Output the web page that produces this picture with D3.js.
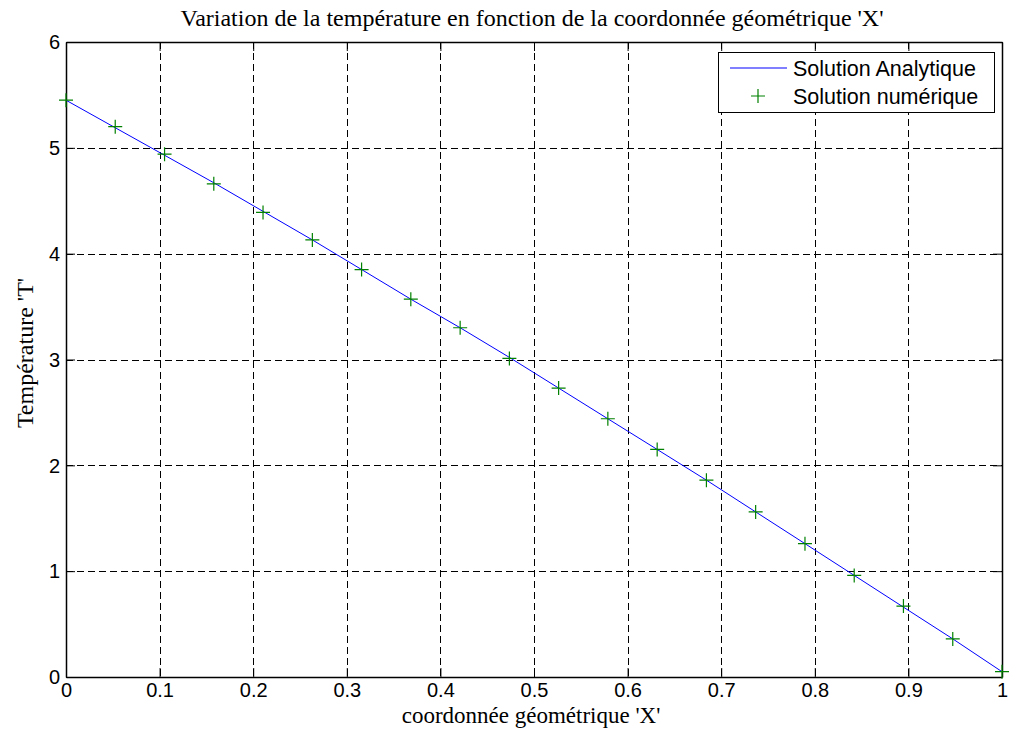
<!DOCTYPE html>
<html>
<head>
<meta charset="utf-8">
<script src="https://cdn.jsdelivr.net/npm/d3@7"></script>
<style>
  body { margin: 0; background: #fff; }
  svg { display: block; }
</style>
</head>
<body>
<svg id="chart" width="1009" height="738"></svg>
<script>
// nodes x = i/19
var xNodes = [0, 0.0526, 0.1053, 0.1579, 0.2105, 0.2632, 0.3158, 0.3684, 0.4211, 0.4737,
  0.5263, 0.5789, 0.6316, 0.6842, 0.7368, 0.7895, 0.8421, 0.8947, 0.9474, 1];
var tAnalytique = [5.45, 5.19, 4.93, 4.67, 4.40, 4.13, 3.85, 3.57, 3.30, 3.02,
  2.73, 2.44, 2.15, 1.86, 1.56, 1.26, 0.96, 0.66, 0.36, 0.05];
var tNumerique = [5.45, 5.20, 4.94, 4.66, 4.39, 4.13, 3.85, 3.57, 3.30, 3.01,
  2.73, 2.44, 2.15, 1.86, 1.56, 1.26, 0.96, 0.67, 0.36, 0.05];
var xTicks = [0, 0.1, 0.2, 0.3, 0.4, 0.5, 0.6, 0.7, 0.8, 0.9, 1];
var yTicks = [0, 1, 2, 3, 4, 5, 6];

var pLeft = 66, pRight = 1002, pTop = 42, pBottom = 677;
var svg = d3.select("#chart");
var sans = "Liberation Sans, Arial, sans-serif";
var serif = "Liberation Serif, Times New Roman, serif";

var x = d3.scaleLinear().domain([0, 1]).range([pLeft, pRight]);
var y = d3.scaleLinear().domain([0, 6]).range([pBottom, pTop]);

// grid
var grid = svg.append("g").attr("stroke", "#000").attr("stroke-width", 1)
  .attr("stroke-dasharray", "7,4").attr("shape-rendering", "crispEdges");
grid.selectAll(".gx").data(xTicks.slice(1, -1)).enter().append("line")
  .attr("x1", d => Math.round(x(d)) + 0.5).attr("x2", d => Math.round(x(d)) + 0.5)
  .attr("y1", pTop).attr("y2", pBottom);
grid.selectAll(".gy").data(yTicks.slice(1, -1)).enter().append("line")
  .attr("y1", d => Math.round(y(d)) + 0.5).attr("y2", d => Math.round(y(d)) + 0.5)
  .attr("x1", pLeft).attr("x2", pRight);

// axes (box, ticks inside)
var xAxis = d3.axisBottom(x).tickValues(xTicks).tickSizeInner(-9).tickSizeOuter(0)
  .tickFormat(d => d3.format("")(d));
var yAxis = d3.axisLeft(y).tickValues(yTicks).tickSizeInner(-9).tickSizeOuter(0)
  .tickFormat(d3.format("d"));
var gx = svg.append("g").attr("transform", "translate(0," + pBottom + ")").call(xAxis);
var gy = svg.append("g").attr("transform", "translate(" + pLeft + ",0)").call(yAxis);
svg.append("g").attr("transform", "translate(0," + pTop + ")")
  .call(d3.axisTop(x).tickValues(xTicks).tickSizeInner(-9).tickSizeOuter(0).tickFormat(""));
svg.append("g").attr("transform", "translate(" + pRight + ",0)")
  .call(d3.axisRight(y).tickValues(yTicks).tickSizeInner(-9).tickSizeOuter(0).tickFormat(""));
svg.selectAll(".domain").attr("stroke", "#000").attr("stroke-width", 1.5);
svg.selectAll(".tick line").attr("stroke", "#000");
[gx, gy].forEach(g => g.selectAll("text")
  .style("font-family", sans).style("font-size", "20px").attr("fill", "#000"));
gx.selectAll("text").attr("y", 20).attr("dy", 0);
gy.selectAll("text").attr("x", -6).attr("dy", "0.34em");

// analytic line
var line = d3.line().x((d, i) => x(xNodes[i])).y(d => y(d));
svg.append("path").datum(tAnalytique).attr("d", line)
  .attr("fill", "none").attr("stroke", "#0000ff").attr("stroke-width", 1);

// numeric markers
function plus(g, cx, cy) {
  g.append("path").attr("d", "M" + (cx - 7) + "," + cy + "H" + (cx + 7) + "M" + cx + "," + (cy - 7) + "V" + (cy + 7))
    .attr("stroke", "#008000").attr("stroke-width", 1.2).attr("fill", "none");
}
var mk = svg.append("g");
tNumerique.forEach((v, i) => plus(mk, x(xNodes[i]), y(v)));

// legend
var lg = svg.append("g");
lg.append("rect").attr("x", 718.5).attr("y", 52.5).attr("width", 276).attr("height", 60)
  .attr("fill", "#fff").attr("stroke", "#000").attr("stroke-width", 1);
lg.append("line").attr("x1", 730).attr("x2", 787).attr("y1", 68).attr("y2", 68)
  .attr("stroke", "#0000ff").attr("stroke-width", 1);
plus(lg, 758, 96);
lg.selectAll("text").data(["Solution Analytique", "Solution numérique"]).enter().append("text")
  .attr("x", 793).attr("y", (d, i) => 76 + i * 28).text(d => d)
  .style("font-family", sans).style("font-size", "21.5px");

// titles
svg.append("text").attr("x", 532).attr("y", 26).attr("text-anchor", "middle")
  .style("font-family", serif).style("font-size", "24px")
  .text("Variation de la température en fonction de la coordonnée géométrique 'X'");
svg.append("text").attr("x", 531).attr("y", 723).attr("text-anchor", "middle")
  .style("font-family", serif).style("font-size", "23px")
  .text("coordonnée géométrique 'X'");
svg.append("text").attr("transform", "translate(33,353) rotate(-90)")
  .attr("text-anchor", "middle")
  .style("font-family", serif).style("font-size", "24px")
  .text("Température 'T'");
</script>
</body>
</html>
